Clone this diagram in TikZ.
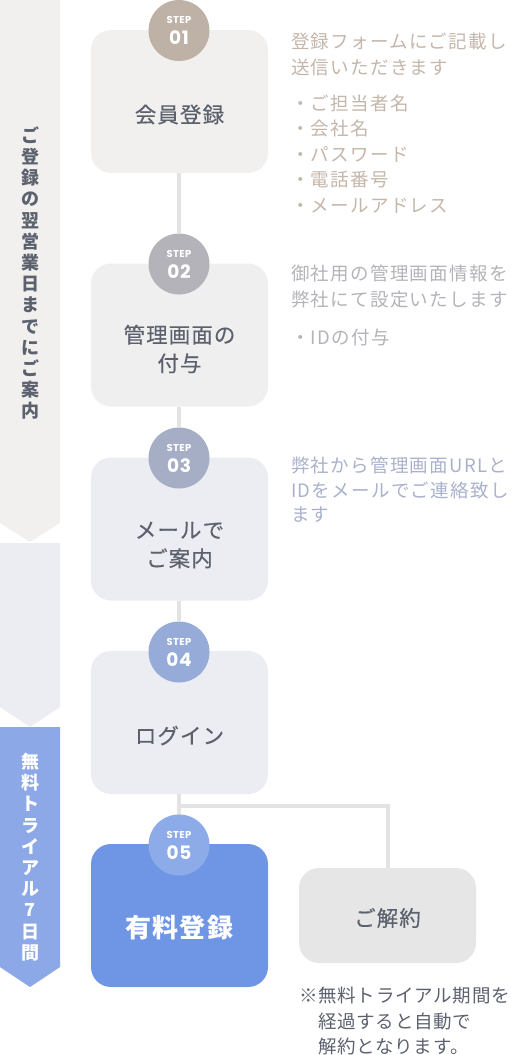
\documentclass[tikz,border=0pt]{standalone}
\usepackage{fontspec}
\setmainfont{Noto Sans CJK JP}
\newfontfamily\jpd{Noto Sans CJK JP}[LetterSpace=7]
\newfontfamily\jpn{Noto Sans CJK JP}[LetterSpace=4]
\newfontfamily\jpb{Noto Sans CJK JP}[LetterSpace=5,FakeBold=0.3]
\newfontfamily\stepf{Poppins}[LetterSpace=4]
\definecolor{bannerA}{HTML}{F1F0EF}
\definecolor{bannerB}{HTML}{ECEDF2}
\definecolor{bannerC}{HTML}{8CA8E6}
\definecolor{boxA}{HTML}{F1F0EF}
\definecolor{boxB}{HTML}{EFEFF0}
\definecolor{boxC}{HTML}{ECEDF2}
\definecolor{boxE}{HTML}{6F96E5}
\definecolor{boxX}{HTML}{E6E6E6}
\definecolor{cA}{HTML}{BEB1A6}
\definecolor{cB}{HTML}{B4B3BA}
\definecolor{cC}{HTML}{A6AEC6}
\definecolor{cD}{HTML}{96ABD8}
\definecolor{cE}{HTML}{8DAAE9}
\definecolor{lineC}{HTML}{E3E3E3}
\definecolor{txt}{HTML}{5C616E}
\definecolor{dA}{HTML}{C4B6AA}
\definecolor{dB}{HTML}{B3B3B9}
\definecolor{dC}{HTML}{A9B1CB}
\begin{document}
\begin{tikzpicture}[x=1pt,y=-1pt,
  stepbox/.style={rounded corners=20pt,minimum width=177pt,minimum height=143pt,inner sep=0pt},
  stepcircle/.style={circle,minimum size=61pt,inner sep=0pt},
  boxtext/.style={font=\jpb\fontsize{21.5}{28.5}\selectfont,text=txt,align=center,inner sep=0pt},
  desc/.style={font=\jpd\fontsize{18.5}{25}\selectfont,anchor=west,inner sep=0pt},
  note/.style={font=\jpn\fontsize{18.5}{25}\selectfont,anchor=west,inner sep=0pt,text=txt},
  vtext/.style={align=center,inner sep=0pt,font=\bfseries\fontsize{18}{21.2}\selectfont},
  conn/.style={draw=lineC,line width=4pt}]
\useasboundingbox (0,0) rectangle (517,1055);
% banners
\fill[bannerA] (0,0) -- (60,0) -- (60,523) -- (30,542) -- (0,523) -- cycle;
\fill[bannerB] (0,543) -- (60,543) -- (60,707) -- (30,727) -- (0,707) -- cycle;
\fill[bannerC] (0,727) -- (60,727) -- (60,967) -- (30,987) -- (0,967) -- cycle;
\node[vtext,text=txt] (vA) at (30,273) {ご\\登\\録\\の\\翌\\営\\業\\日\\ま\\で\\に\\ご\\案\\内};
\node[vtext,text=white] (vC) at (30,857) {無\\料\\ト\\ラ\\イ\\ア\\ル\\7\\日\\間};
% boxes
\node[stepbox,fill=boxA] (b1) at (179.5,101.5) {};
\node[stepbox,fill=boxB] (b2) at (179.5,335) {};
\node[stepbox,fill=boxC] (b3) at (179.5,529) {};
\node[stepbox,fill=boxC] (b4) at (179.5,722.5) {};
\node[stepbox,fill=boxE] (b5) at (179.5,915.5) {};
\node[stepbox,fill=boxX,minimum height=95pt] (bx) at (387.5,915.5) {};
% connectors
\coordinate (br) at (179,806);
\coordinate (bc) at (388,806);
\draw[conn] (b1.south -| 179,0) -- (179,233);
\draw[conn] (b2.south -| 179,0) -- (179,427);
\draw[conn] (b3.south -| 179,0) -- (179,621);
\draw[conn] (b4.south -| 179,0) -- (179,815);
\draw[conn] (br) -- (bc) -- (bx.north -| bc);
% circles
\foreach \n/\c/\y in {01/cA/30.5,02/cB/264,03/cC/458,04/cD/652,05/cE/845}{
  \node[stepcircle,fill=\c] (s\n) at (179,\y) {};
  \node[font=\stepf\bfseries\fontsize{10}{10}\selectfont,text=white,inner sep=0pt] (st\n) at (179,\y-10.5) {STEP};
  \node[font=\stepf\bfseries\fontsize{18.5}{20}\selectfont,text=white,inner sep=0pt] (sn\n) at (179,\y+7.5) {\n};
}
% box texts
\node[boxtext] (t1) at ([yshift=-13pt]b1.center) {会員登録};
\node[boxtext] (t2) at ([yshift=-14pt]b2.center) {管理画面の\\付与};
\node[boxtext] (t3) at ([yshift=-16pt]b3.center) {メールで\\ご案内};
\node[boxtext] (t4) at ([yshift=-13pt]b4.center) {ログイン};
\node[boxtext,text=white,font=\jpn\bfseries\fontsize{26}{28}\selectfont] (t5) at ([yshift=-12pt]b5.center) {有料登録};
\node[boxtext] (tx) at ([yshift=-2.5pt]bx.center) {ご解約};
% descriptions
\node[desc,text=dA] (d1a) at (291,41) {登録フォームにご記載し};
\node[desc,text=dA] (d1b) at (291,67) {送信いただきます};
\node[desc,text=dA] (d1c) at (291,103) {・ご担当者名};
\node[desc,text=dA] (d1d) at (291,128.5) {・会社名};
\node[desc,text=dA] (d1e) at (291,154.5) {・パスワード};
\node[desc,text=dA] (d1f) at (291,180) {・電話番号};
\node[desc,text=dA] (d1g) at (291,206) {・メールアドレス};
\node[desc,text=dB] (d2a) at (291,273) {御社用の管理画面情報を};
\node[desc,text=dB] (d2b) at (291,300) {弊社にて設定いたします};
\node[desc,text=dB] (d2c) at (291,337) {・IDの付与};
\node[desc,text=dC] (d3a) at (291,465) {弊社から管理画面URLと};
\node[desc,text=dC] (d3b) at (291,490) {IDをメールでご連絡致し};
\node[desc,text=dC] (d3c) at (291,515) {ます};
% note
\node[note] (n1) at (299,995) {※無料トライアル期間を};
\node[note] (n2) at (318,1021) {経過すると自動で};
\node[note] (n3) at (318,1046) {解約となります。};
\end{tikzpicture}
\end{document}
